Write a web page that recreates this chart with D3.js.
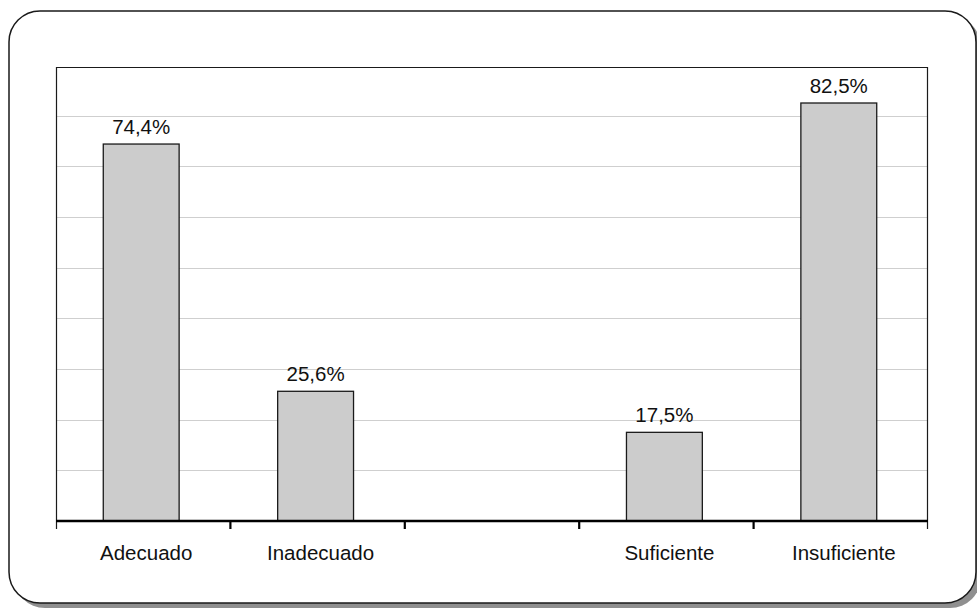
<!DOCTYPE html>
<html>
<head>
<meta charset="utf-8">
<script src="https://cdn.jsdelivr.net/npm/d3@7"></script>
<style>
  html, body { margin: 0; padding: 0; background: #fff; }
  svg { display: block; }
  text { font-family: "Liberation Sans", Arial, Helvetica, sans-serif; fill: #111; }
</style>
</head>
<body>
<svg id="chart" width="977" height="609"></svg>
<script>
// Categories (the empty one is a spacer group between the two pairs)
const categories = ["Adecuado", "Inadecuado", "", "Suficiente", "Insuficiente"];
const values = [74.4, 25.6, null, 17.5, 82.5];
const valueLabels = ["74,4%", "25,6%", "", "17,5%", "82,5%"];
const gridTicks = [10, 20, 30, 40, 50, 60, 70, 80];

const plot = { left: 56, right: 928, top: 67, bottom: 521 };

const svg = d3.select("#chart");

// Card with drop shadow
svg.append("rect")
  .attr("x", 14).attr("y", 16).attr("width", 967).attr("height", 592)
  .attr("rx", 31).attr("ry", 31)
  .attr("fill", "#8f8f8f");
svg.append("rect")
  .attr("x", 9).attr("y", 11).attr("width", 967).attr("height", 592)
  .attr("rx", 31).attr("ry", 31)
  .attr("fill", "#fff").attr("stroke", "#1a1a1a").attr("stroke-width", 1.5);

const x = d3.scaleBand()
  .domain(d3.range(categories.length))
  .range([plot.left, plot.right])
  .paddingInner(0.565)
  .paddingOuter(0.2825);

const band = d3.scaleBand()
  .domain(d3.range(categories.length))
  .range([plot.left, plot.right]);

const y = d3.scaleLinear().domain([0, 90]).range([plot.bottom, 65]);

// Gridlines
svg.append("g")
  .selectAll("line")
  .data(gridTicks)
  .join("line")
  .attr("x1", plot.left).attr("x2", plot.right)
  .attr("y1", d => Math.round(y(d)) + 0.5).attr("y2", d => Math.round(y(d)) + 0.5)
  .attr("stroke", "#cfcfcf").attr("stroke-width", 1);

// Plot frame: top, left and right edges (sides run below the axis)
svg.append("path")
  .attr("d", `M${plot.left + 0.5},${plot.bottom + 8} V${plot.top + 0.5} H${plot.right - 0.5} V${plot.bottom + 8}`)
  .attr("fill", "none").attr("stroke", "#1a1a1a").attr("stroke-width", 1.2);

// Bars
const data = categories.map((c, i) => ({ c, v: values[i], label: valueLabels[i], i }))
  .filter(d => d.v != null);

svg.append("g")
  .selectAll("rect")
  .data(data)
  .join("rect")
  .attr("x", d => x(d.i) - 2)
  .attr("y", d => y(d.v))
  .attr("width", x.bandwidth())
  .attr("height", d => y(0) - y(d.v))
  .attr("fill", "#cccccc")
  .attr("stroke", "#1a1a1a").attr("stroke-width", 1.3);

// Value labels
svg.append("g")
  .selectAll("text")
  .data(data)
  .join("text")
  .attr("x", d => x(d.i) - 2 + x.bandwidth() / 2)
  .attr("y", d => y(d.v) - 10.5)
  .attr("text-anchor", "middle")
  .attr("font-size", 20.5)
  .text(d => d.label);

// X axis line and group separators
svg.append("line")
  .attr("x1", plot.left).attr("x2", plot.right)
  .attr("y1", plot.bottom).attr("y2", plot.bottom)
  .attr("stroke", "#000").attr("stroke-width", 2.4);

svg.append("g")
  .selectAll("line")
  .data(d3.range(1, categories.length))
  .join("line")
  .attr("x1", d => band(d)).attr("x2", d => band(d))
  .attr("y1", plot.bottom).attr("y2", plot.bottom + 8)
  .attr("stroke", "#000").attr("stroke-width", 2.2);

// Category labels
svg.append("g")
  .selectAll("text")
  .data(categories)
  .join("text")
  .attr("x", (d, i) => band(i) + band.bandwidth() / 2 + 3)
  .attr("y", 559.5)
  .attr("text-anchor", "middle")
  .attr("font-size", 20.5)
  .text(d => d);
</script>
</body>
</html>
